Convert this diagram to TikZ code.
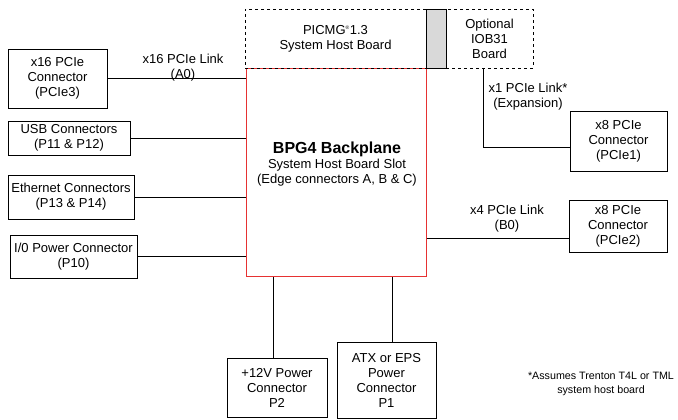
\documentclass[tikz,border=0pt]{standalone}
\usepackage{fontspec}
\setmainfont{Liberation Sans}
\definecolor{bpred}{RGB}{230,50,50}
\tikzset{
	box/.style={draw, line width=.7pt, inner sep=0pt, align=center,
		font=\fontsize{13}{15}\selectfont},
	lbl/.style={align=center, font=\fontsize{13}{15}\selectfont},
	link/.style={line width=.7pt},
}
\begin{document}
\begin{tikzpicture}[x=1pt,y=-1pt]
	\useasboundingbox (0,0) rectangle (678,420);
	
	% Backplane
	\node[inner sep=0pt, minimum width=180pt, minimum height=208pt] (bp) at (336.5,172.5){};
	\draw[bpred, line width=1pt] (bp.north west) rectangle (bp.south east);
	\node[lbl] (bptext) at (337,164) {{\fontsize{16}{18}\selectfont\bfseries BPG4 Backplane}\\System Host Board Slot\\(Edge connectors A, B \& C)};
	
	% Host board on top
	\node[box, dashed, fill=white, minimum width=181pt, minimum height=59pt] (shb) at (335.5,38.5)
	{PICMG\textsuperscript{\tiny\textregistered}1.3\\System Host Board};
	\node[box, fill=gray!30, minimum width=20pt, minimum height=59pt] (strip) at (436,38.5){};
	\node[box, dashed, minimum width=87pt, minimum height=59pt] (iob) at (489.5,38.5)
	{Optional\\IOB31\\Board};
	
	% Left side
	\node[box, minimum width=99pt, minimum height=59pt] (pcie3) at (57.5,78.5) {x16 PCIe\\Connector\\(PCIe3)};
	\node[box, minimum width=122pt, minimum height=34pt] (usb) at (69,138) {USB Connectors\\(P11 \& P12)};
	\node[box, minimum width=126pt, minimum height=44pt] (eth) at (71,197) {Ethernet Connectors\\(P13 \& P14)};
	\node[box, minimum width=127pt, minimum height=43pt] (iopwr) at (73.5,256.5) {I/0 Power Connector\\(P10)};
	\node[lbl] (a0) at (183,68) {x16 PCIe Link\\(A0)};
	
	\draw[link] (pcie3.east) -- (pcie3.east -| bp.west);
	\draw[link] (usb.east) -- (usb.east -| bp.west);
	\draw[link] (eth.east) -- (eth.east -| bp.west);
	\draw[link] (iopwr.east) -- (iopwr.east -| bp.west);
	
	% Right side
	\node[box, minimum width=97pt, minimum height=60pt] (pcie1) at (618.5,141) {x8 PCIe\\Connector\\(PCIe1)};
	\node[box, minimum width=98pt, minimum height=52pt] (pcie2) at (618,226) {x8 PCIe\\Connector\\(PCIe2)};
	\node[lbl] (exp) at (528,97) {x1 PCIe Link*\\(Expansion)};
	\node[lbl] (b0) at (507,219) {x4 PCIe Link\\(B0)};
	
	\coordinate (elbow) at (483,147);
	\draw[link] (iob.south -| elbow) -- (elbow) -- (elbow -| pcie1.west);
	\draw[link] (bp.east |- 0,238) -- (pcie2.west |- 0,238);
	
	% Power connectors
	\node[box, minimum width=100pt, minimum height=59pt] (p2) at (277,387.5) {+12V Power\\Connector\\P2};
	\node[box, minimum width=99pt, minimum height=76pt] (p1) at (386.5,380) {ATX or EPS\\Power\\Connector\\P1};
	
	\draw[link] ([xshift=-4pt]p2.north) -- ([xshift=-4pt]p2.north |- bp.south);
	\draw[link] ([xshift=5.5pt]p1.north) -- ([xshift=5.5pt]p1.north |- bp.south);
	
	% Footnote
	\node[lbl, font=\fontsize{10.7}{14}\selectfont] (note) at (601,384) {*Assumes Trenton T4L or TML\\system host board};
	
\end{tikzpicture}
\end{document}
